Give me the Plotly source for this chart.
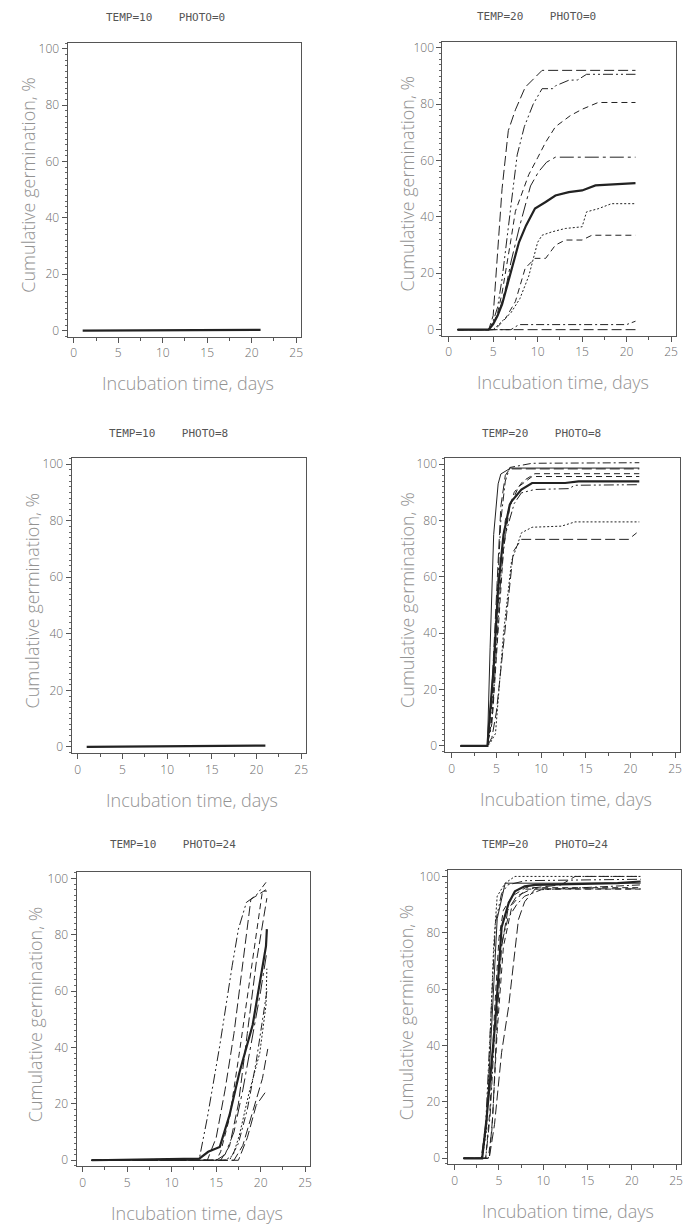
import plotly.graph_objects as go

W, H = 694, 1229

# ---------------- data ----------------
# TEMP=10 PHOTO=0
t10p0_x = [1, 21]
t10p0_mean = [0, 0.3]

# TEMP=10 PHOTO=8
t10p8_x = [1, 21]
t10p8_mean = [0, 0.5]

# TEMP=20 PHOTO=0
t20p0_a_x = [1, 4.5, 5, 5.5, 6, 6.7, 7.5, 8.6, 9.5, 10.5, 21]
t20p0_a_y = [0, 0, 5, 28, 50, 70.6, 78, 86, 89, 92, 92]
t20p0_b_x = [1, 4.5, 5, 5.5, 6, 6.5, 7, 7.7, 8.5, 9.5, 10.5, 11.7, 12, 13.5, 14.5, 15.5, 21]
t20p0_b_y = [0, 0, 3, 8, 18, 30, 44, 62, 72, 80, 85.5, 85.5, 86.5, 88.5, 88.6, 90.6, 90.6]
t20p0_c_x = [1, 4.5, 5, 5.5, 6, 6.5, 7, 7.5, 8.2, 9, 10, 10.9, 12, 13.7, 15, 16.8, 21]
t20p0_c_y = [0, 0, 2, 6, 13, 22, 32, 42, 48, 55, 61, 66.5, 72, 76, 78.2, 80.6, 80.6]
t20p0_d_x = [1, 4.5, 5, 5.5, 6, 6.5, 7, 8, 9.2, 10.1, 11, 12, 21]
t20p0_d_y = [0, 0, 2, 5, 10, 16, 24, 37, 51, 56, 59.4, 61.2, 61.2]
t20p0_mean_x = [1, 4.5, 5, 5.5, 6, 6.4, 7, 7.9, 8.7, 9.7, 10.9, 12, 13.5, 15, 16.5, 18, 21]
t20p0_mean_y = [0, 0, 2, 5, 9, 13.5, 21, 31, 37, 43, 45.3, 47.6, 48.8, 49.4, 51.2, 51.5, 52]
t20p0_f_x = [1, 5, 6, 7, 8, 9, 10, 10.5, 11.6, 13.1, 15, 15.5, 16.8, 18.3, 21]
t20p0_f_y = [0, 0, 3, 6, 11, 19, 31, 33.5, 34.7, 35.9, 36.5, 41.8, 42.9, 44.7, 44.7]
t20p0_g_x = [1, 5, 5.5, 6.4, 7.5, 8.6, 9.7, 10.9, 12, 13.1, 15, 16.1, 21]
t20p0_g_y = [0, 0, 1, 4, 10, 21.8, 25.3, 25.3, 30, 31.8, 31.8, 33.5, 33.5]
t20p0_h_x = [1, 7, 7.9, 20, 21]
t20p0_h_y = [0, 0, 1.8, 1.8, 3]
t20p0_i_x = [1, 21]
t20p0_i_y = [0, 0]

# TEMP=20 PHOTO=8
t20p8_a_x = [1, 4, 4.5, 5, 5.5, 6, 6.5, 9, 21]
t20p8_a_y = [0, 0, 15, 50, 80, 94, 98.8, 100.3, 100.5]
t20p8_b_x = [1, 4, 4.5, 5, 5.5, 6, 6.5, 21]
t20p8_b_y = [0, 0, 20, 55, 85, 96, 98.3, 98.3]
t20p8_c_x = [1, 4, 4.3, 4.7, 5.2, 5.5, 6.6, 21]
t20p8_c_y = [0, 0, 35, 75, 93, 96.5, 98.6, 98.6]
t20p8_d_x = [1, 4, 4.5, 5, 5.5, 6, 7, 8, 9.3, 21]
t20p8_d_y = [0, 0, 10, 40, 65, 80, 90, 94, 96.6, 96.6]
t20p8_e_x = [1, 4, 4.6, 5.2, 5.8, 6.5, 7.5, 9, 21]
t20p8_e_y = [0, 0, 12, 42, 70, 85, 92, 95.6, 95.6]
t20p8_mean_x = [1, 4, 4.1, 4.7, 5.2, 5.8, 6.5, 6.7, 7.8, 9, 12.7, 14.2, 21]
t20p8_mean_y = [0, 0, 4.4, 28, 56, 75, 85.6, 86.8, 91, 93.3, 93.3, 93.9, 93.9]
t20p8_g_x = [1, 4, 4.5, 5, 5.5, 6, 7, 7.8, 9.3, 13.1, 13.8, 21]
t20p8_g_y = [0, 0, 8, 35, 60, 75, 86, 89.8, 91, 91.3, 92.5, 92.7]
t20p8_h_x = [1, 4, 4.3, 4.9, 5.8, 6.7, 7.5, 7.8, 9, 12.3, 13.8, 21]
t20p8_h_y = [0, 0, 1, 4.4, 40, 65.6, 72.7, 75.6, 77.6, 78, 79.5, 79.5]
t20p8_i_x = [1, 4, 4.5, 5, 5.6, 6.3, 6.9, 7.8, 19.8, 20.7]
t20p8_i_y = [0, 0, 3, 12, 30, 51.5, 69, 73.3, 73.3, 75.6]

# TEMP=10 PHOTO=24
t10p24_a_x = [1, 13.1, 14, 15, 15.4, 16.8, 17.5, 18.4, 19.5, 20.6]
t10p24_a_y = [0, 0.5, 15, 33, 40.6, 69, 82, 91.5, 94, 98.6]
t10p24_b_x = [1, 14, 15, 16, 17, 17.9, 18.9, 20.6]
t10p24_b_y = [0, 0, 8, 25, 45, 68, 92.6, 96]
t10p24_c_x = [1, 15, 15.5, 16.5, 17.6, 18.5, 19.1, 20.2, 20.7]
t10p24_c_y = [0, 0, 3, 15, 38, 58, 71, 95.5, 95.5]
t10p24_d_x = [1, 15.5, 16.5, 17.5, 18.5, 19.5, 20.7]
t10p24_d_y = [0, 0, 5, 20, 45, 70, 93]
t10p24_mean_x = [1, 13.1, 14.1, 15.4, 16.5, 17.6, 19.1, 20.6, 20.7]
t10p24_mean_y = [0, 0.6, 3, 4.7, 16, 31, 48, 76, 82]
t10p24_f_x = [1, 15, 16, 17, 18, 19, 20, 20.7]
t10p24_f_y = [0, 0, 2, 10, 25, 42, 60, 74]
t10p24_g_x = [1, 16, 16.9, 17.6, 18.7, 19.9, 20.6, 20.7]
t10p24_g_y = [0, 0, 1.8, 8.8, 24, 38, 55, 68]
t10p24_h_x = [1, 16.5, 17.5, 18.5, 19.5, 20.7]
t10p24_h_y = [0, 0, 6, 18, 35, 60]
t10p24_i_x = [1, 17, 18, 19.1, 20.2, 20.8]
t10p24_i_y = [0, 0, 5.3, 17, 29, 39.5]
t10p24_j_x = [1, 17.5, 18.5, 19.5, 20.5]
t10p24_j_y = [0, 0, 8, 19.5, 24]

# TEMP=20 PHOTO=24
t20p24_a_x = [1, 3.1, 3.6, 4, 4.4, 4.8, 5.7, 6.8, 21]
t20p24_a_y = [0, 0, 10, 40, 75, 93, 97.6, 100, 100]
t20p24_b_x = [1, 3, 3.5, 4, 4.6, 5.3, 6, 8, 21]
t20p24_b_y = [0, 0, 12, 45, 83.5, 94, 97, 98.5, 99]
t20p24_c_x = [1, 3.1, 3.6, 4.2, 4.8, 5.7, 21]
t20p24_c_y = [0, 0, 12, 50, 85, 97.6, 97.6]
t20p24_mean_x = [1, 3.1, 3.6, 4.6, 5.3, 6.1, 6.8, 7.9, 9.1, 18.4, 21]
t20p24_mean_y = [0, 0, 14, 49, 82, 90.6, 94.7, 96.5, 97, 97.6, 98.2]
t20p24_e_x = [1, 3.9, 4.5, 5.3, 6.1, 7.2, 7.9, 9.1, 21]
t20p24_e_y = [0, 0, 12, 37.6, 54, 84.7, 91, 95.6, 95.6]
t20p24_f_x = [1, 3.9, 4.3, 4.8, 5.3, 6, 7, 9, 12, 13.6, 21]
t20p24_f_y = [0, 0, 15, 50, 75, 88, 93, 96, 97, 100, 100]
t20p24_g_x = [1, 3.5, 4, 4.6, 5.2, 6, 7, 7.9, 9.8, 21]
t20p24_g_y = [0, 0, 15, 50, 75, 85, 90, 93, 95.3, 97]
t20p24_h_x = [1, 3.5, 4, 4.5, 5, 5.5, 6.5, 8, 21]
t20p24_h_y = [0, 0, 18, 52, 78, 88, 93, 96, 96]
t20p24_i_x = [1, 3.8, 4.2, 4.8, 5.5, 6.5, 8, 21]
t20p24_i_y = [0, 0, 10, 45, 75, 90, 95.5, 95.5]

panel_titles = ["TEMP=10    PHOTO=0", "TEMP=20    PHOTO=0",
                "TEMP=10    PHOTO=8", "TEMP=20    PHOTO=8",
                "TEMP=10    PHOTO=24", "TEMP=20    PHOTO=24"]
x_ticks = [0, 5, 10, 15, 20, 25]
y_ticks = [0, 20, 40, 60, 80, 100]
x_title = "Incubation time, days"
y_title = "Cumulative germination, %"

# ---------------- styles ----------------
LONGDASH = "10px,4px"
DASH = "6px,4px"
DOT = "2px,2px"
DASHDOT = "8px,3px,2px,3px"
LONGDASHDOT = "14px,4px,3px,4px"
DASHDOTDOT = "10px,3px,2px,3px,2px,3px"
LINE = "#222222"

panels = [
    [(t10p0_x, t10p0_mean, "solid", 2.2)],
    [(t20p0_i_x, t20p0_i_y, LONGDASH, 1),
     (t20p0_h_x, t20p0_h_y, DASHDOT, 1),
     (t20p0_g_x, t20p0_g_y, DASH, 1),
     (t20p0_f_x, t20p0_f_y, DOT, 1),
     (t20p0_d_x, t20p0_d_y, LONGDASHDOT, 1),
     (t20p0_c_x, t20p0_c_y, DASH, 1),
     (t20p0_b_x, t20p0_b_y, DASHDOTDOT, 1),
     (t20p0_a_x, t20p0_a_y, LONGDASH, 1),
     (t20p0_mean_x, t20p0_mean_y, "solid", 2.2)],
    [(t10p8_x, t10p8_mean, "solid", 2.2)],
    [(t20p8_a_x, t20p8_a_y, DASHDOT, 1),
     (t20p8_b_x, t20p8_b_y, LONGDASH, 1),
     (t20p8_c_x, t20p8_c_y, "solid", 1),
     (t20p8_d_x, t20p8_d_y, DASH, 1),
     (t20p8_e_x, t20p8_e_y, DASH, 1),
     (t20p8_g_x, t20p8_g_y, DASHDOTDOT, 1),
     (t20p8_h_x, t20p8_h_y, DOT, 1),
     (t20p8_i_x, t20p8_i_y, LONGDASH, 1),
     (t20p8_mean_x, t20p8_mean_y, "solid", 2.2)],
    [(t10p24_a_x, t10p24_a_y, DASHDOTDOT, 1),
     (t10p24_b_x, t10p24_b_y, LONGDASH, 1),
     (t10p24_c_x, t10p24_c_y, DASH, 1),
     (t10p24_d_x, t10p24_d_y, LONGDASH, 1),
     (t10p24_f_x, t10p24_f_y, LONGDASHDOT, 1),
     (t10p24_g_x, t10p24_g_y, DOT, 1),
     (t10p24_h_x, t10p24_h_y, DASHDOT, 1),
     (t10p24_i_x, t10p24_i_y, LONGDASH, 1),
     (t10p24_j_x, t10p24_j_y, LONGDASH, 1),
     (t10p24_mean_x, t10p24_mean_y, "solid", 2.2)],
    [(t20p24_a_x, t20p24_a_y, DOT, 1),
     (t20p24_b_x, t20p24_b_y, DASHDOTDOT, 1),
     (t20p24_c_x, t20p24_c_y, "solid", 1),
     (t20p24_e_x, t20p24_e_y, LONGDASH, 1),
     (t20p24_f_x, t20p24_f_y, LONGDASH, 1),
     (t20p24_g_x, t20p24_g_y, DASHDOT, 1),
     (t20p24_h_x, t20p24_h_y, DASH, 1),
     (t20p24_i_x, t20p24_i_y, DASH, 1),
     (t20p24_mean_x, t20p24_mean_y, "solid", 2.2)],
]

# pixel anchors per panel: (x=0 px, x=25 px, y=100 px, y=0 px)
anchors = [(74, 297, 46, 329), (450, 673, 45, 328),
           (78, 302, 463, 747), (453, 677, 463, 746),
           (83, 306, 879, 1162), (456, 678, 877, 1160)]
title_pos = [(166, 15), (538, 14), (169, 432), (543, 432), (173, 845), (547, 845)]
ytitle_x = [28, 408, 32, 408, 35, 408]

XR = [-0.7, 25.6]
YR = [-2.2, 102.2]

fig = go.Figure()
layout = dict(width=W, height=H, margin=dict(l=0, r=0, t=0, b=0), autosize=False,
              paper_bgcolor="white", plot_bgcolor="white", showlegend=False)
annotations = []


def px2x(p):
    return p / W


def px2y(p):
    return 1 - p / H


AXFONT = dict(family="Open Sans", size=18, color="#929292", weight=300)
TICKFONT = dict(family="Open Sans", size=12, color="#6a6a6a", weight=300)
TITLEFONT = dict(family="DejaVu Sans Mono", size=11, color="#555555")

for i, traces in enumerate(panels):
    x0, x25, y100, y0 = anchors[i]
    sx = (x25 - x0) / 25.0
    sy = (y0 - y100) / 100.0
    left = x0 + XR[0] * sx
    right = x0 + XR[1] * sx
    top = y0 - YR[1] * sy
    bottom = y0 - YR[0] * sy
    n = i + 1
    xa = "xaxis" if n == 1 else f"xaxis{n}"
    ya = "yaxis" if n == 1 else f"yaxis{n}"
    xref = "x" if n == 1 else f"x{n}"
    yref = "y" if n == 1 else f"y{n}"
    layout[xa] = dict(domain=[px2x(left), px2x(right)], anchor=yref, range=XR,
                      tickvals=x_ticks, ticks="outside", ticklen=5, tickwidth=1,
                      tickcolor="#555", showline=True, linecolor="#555", linewidth=1,
                      mirror=True, showgrid=False, zeroline=False,
                      tickfont=TICKFONT,
                      minor=dict(dtick=2.5, tick0=0, ticklen=3, tickcolor="#555", ticks="outside"))
    layout[ya] = dict(domain=[px2y(bottom), px2y(top)], anchor=xref, range=YR,
                      tickvals=y_ticks, ticks="outside", ticklen=5, tickwidth=1,
                      tickcolor="#555", showline=True, linecolor="#555", linewidth=1,
                      mirror=True, showgrid=False, zeroline=False,
                      tickfont=TICKFONT,
                      minor=dict(dtick=2, tick0=0, ticklen=2, tickcolor="#666", ticks="outside"))
    for (xs, ys, dash, w) in traces:
        fig.add_trace(go.Scatter(x=xs, y=ys, mode="lines", xaxis=xref, yaxis=yref,
                                 line=dict(color=LINE, width=w, dash=dash),
                                 hoverinfo="skip"))
    tx, ty = title_pos[i]
    annotations.append(dict(text=panel_titles[i].replace(" ", "\u00a0"), x=px2x(tx), y=px2y(ty),
                            xref="paper", yref="paper", showarrow=False,
                            xanchor="center", yanchor="middle", font=TITLEFONT))
    # x axis title
    annotations.append(dict(text=x_title, x=px2x((x0 + x25) / 2 + 3), y=px2y(y0 + 53),
                            xref="paper", yref="paper", showarrow=False,
                            xanchor="center", yanchor="middle", font=AXFONT))
    # y axis title
    annotations.append(dict(text=y_title, x=px2x(ytitle_x[i]), y=px2y((y0 + y100) / 2 - 5),
                            xref="paper", yref="paper", showarrow=False, textangle=-90,
                            xanchor="center", yanchor="middle", font=AXFONT))

layout["annotations"] = annotations
fig.update_layout(**layout)
fig.write_html("out.html", config={"displayModeBar": False})
